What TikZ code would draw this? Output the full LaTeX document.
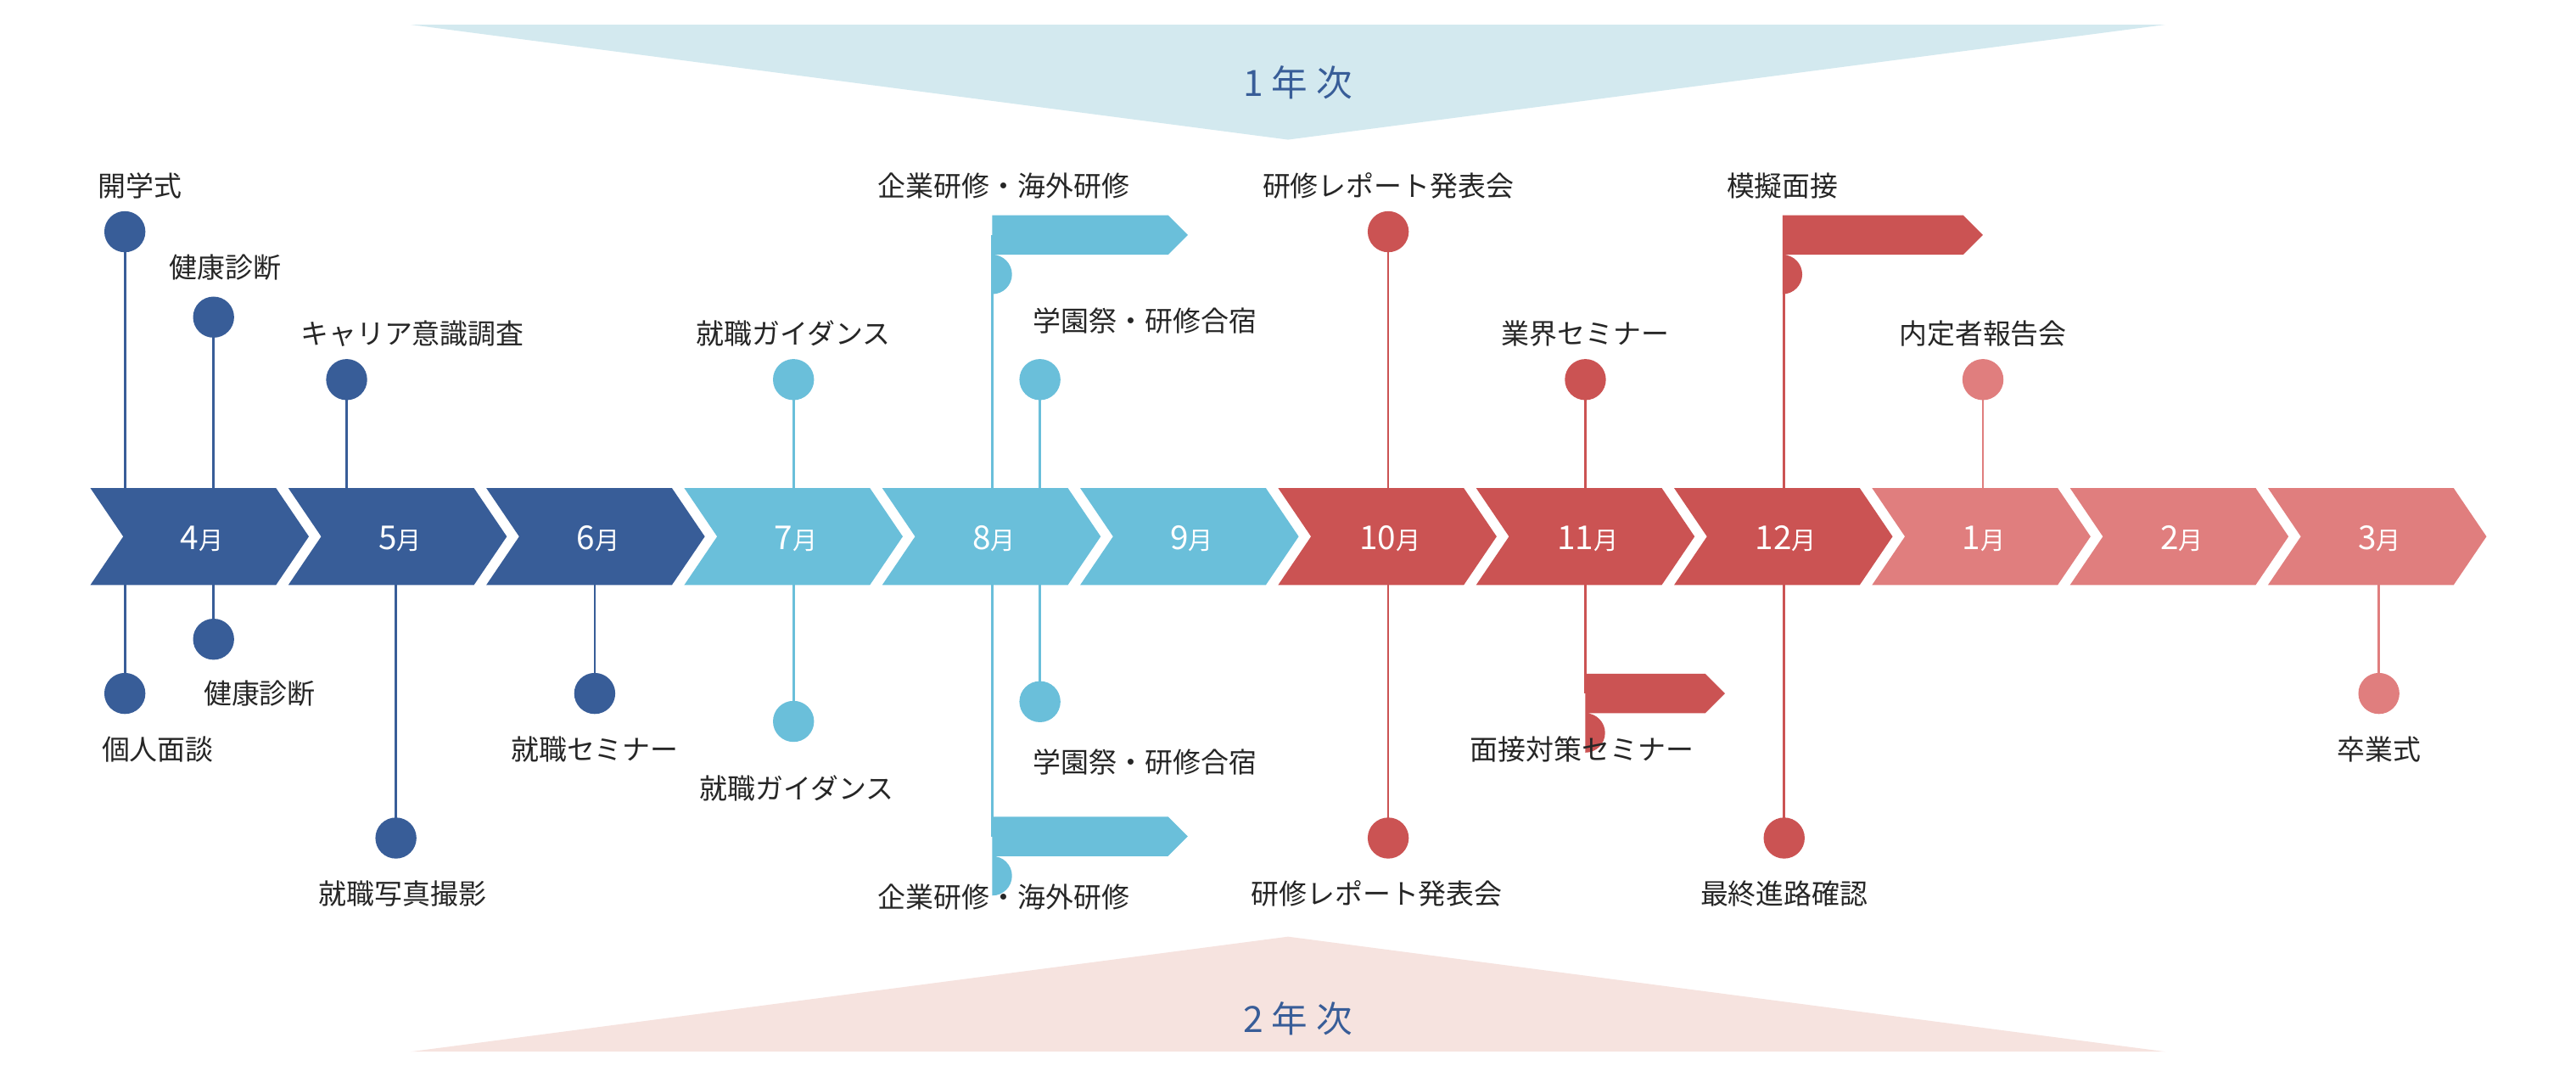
\documentclass[tikz,border=0pt]{standalone}
\usepackage{fontspec}
\setmainfont{Noto Sans CJK JP}
\begin{document}
\begin{tikzpicture}[x=1pt,y=-1pt,
  lbl/.style={font=\fontsize{17}{17}\selectfont, text=black!85},
  mon/.style={font=\fontsize{20}{20}\selectfont, text=white},
  dotn/.style={circle, minimum size=25pt, inner sep=0pt},
  stem/.style={line width=1.4pt}]
\definecolor{db}{HTML}{385D98}
\definecolor{lb}{HTML}{6ABFDA}
\definecolor{rd}{HTML}{CB5353}
\definecolor{pk}{HTML}{E07E7E}
\definecolor{bannerA}{HTML}{D3E9EF}
\definecolor{bannerB}{HTML}{F6E3DF}
\useasboundingbox (0,0) rectangle (1568,662);
% banners
\fill[bannerA] (250,15) -- (1318,15) -- (784,85) -- cycle;
\fill[bannerB] (250,640) -- (1318,640) -- (784,570) -- cycle;
\node[font=\fontsize{22}{22}\selectfont, text=db] (y1) at (790,50) {1 年 次};
\node[font=\fontsize{22}{22}\selectfont, text=db] (y2) at (790,620) {2 年 次};
% stems (drawn first)
\foreach \x/\a/\b/\c in {76/141/422/db,130/193/389/db,211/231/297/db,241/356/510/db,362/356/422/db,
  483/231/439/lb,604/143/509/lb,633/231/427/lb,845/141/510/rd,965/231/422/rd,1086/143/510/rd,1207/231/297/pk,1448/356/422/pk}
  \draw[stem,\c] (\x,\a) -- (\x,\b);
% chevrons
\foreach \i/\m/\c in {0/4/db,1/5/db,2/6/db,3/7/lb,4/8/lb,5/9/lb,6/10/rd,7/11/rd,8/12/rd,9/1/pk,10/2/pk,11/3/pk}{
  \pgfmathsetmacro{\xo}{55+120.5*\i}
  \fill[\c] (\xo,297) -- (\xo+113,297) -- (\xo+133,326.5) -- (\xo+113,356) -- (\xo,356) -- (\xo+20,326.5) -- cycle;
  \node[mon] (m\m) at (\xo+68,328) {\m\fontsize{15}{15}\selectfont 月};
}
% arrow bars
\foreach \nm/\xa/\xb/\y/\c in {barA/592/723/143/lb, barB/592/723/509/lb, barC/1073/1207/143/rd, barD/953/1050/422/rd}{
  \fill[\c] (\xa+12,\y-12) -- (\xb-12,\y-12) -- (\xb,\y) -- (\xb-12,\y+12) -- (\xa+12,\y+12) arc (90:270:-12) -- cycle;
  \coordinate (\nm) at (\xa,\y);
}
% dots
\foreach \nm/\x/\y/\c in {d1/76/141/db,d2/130/193/db,d3/211/231/db,d4/483/231/lb,d5/633/231/lb,d6/845/141/rd,d7/965/231/rd,d8/1207/231/pk,
  e1/76/422/db,e2/130/389/db,e3/241/510/db,e4/362/422/db,e5/483/439/lb,e6/633/427/lb,e7/845/510/rd,e8/1086/510/rd,e9/1448/422/pk}
  \node[dotn, fill=\c] (\nm) at (\x,\y) {};
% labels
\foreach \nm/\x/\y/\t in {t1/85/113/開学式, t2/137/163/健康診断, t3/251/203/キャリア意識調査, t4/483/203/就職ガイダンス,
  t5/611/113/企業研修・海外研修, t6/697/195/学園祭・研修合宿, t7/845/113/研修レポート発表会, t8/965/203/業界セミナー,
  t9/1085/113/模擬面接, t10/1207/203/内定者報告会,
  u1/96/456/個人面談, u2/158/422/健康診断, u3/245/544/就職写真撮影, u4/362/456/就職セミナー, u5/485/480/就職ガイダンス,
  u6/611/546/企業研修・海外研修, u7/697/464/学園祭・研修合宿, u8/838/544/研修レポート発表会, u9/963/456/面接対策セミナー,
  u10/1086/544/最終進路確認, u11/1448/456/卒業式}
  \node[lbl] (\nm) at (\x,\y) {\t};
\end{tikzpicture}
\end{document}
